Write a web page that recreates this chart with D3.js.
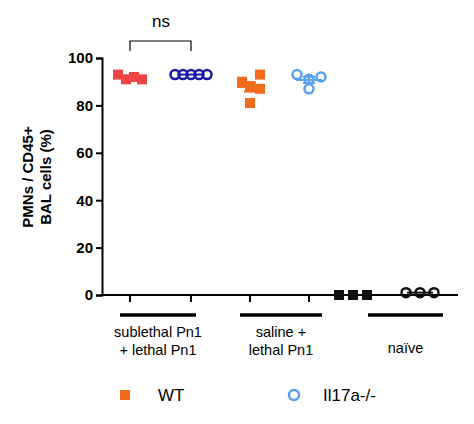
<!DOCTYPE html><html><head><meta charset="utf-8"><script src="https://cdn.jsdelivr.net/npm/d3@7"></script>
<style>body{margin:0;background:#fff}text{font-family:Arial,"Liberation Sans",sans-serif}</style></head><body><svg id="c" width="474" height="424"></svg><script>
const groups=["sub_WT","sub_KO","sal_WT","sal_KO","naive_WT","naive_KO"];
const values=[[93,91,92,91],[93,93,93,93,93],[93,90,87,88,81],[93,92,87,91],[0,0,0],[1,1,1]];
const colors=["#f04545","#1a1aa8","#f26b1d","#5aa0f0","#111","#111"];
const shapes=["sq","ci","sq","ci","sq","ci"];
const yTicks=[0,20,40,60,80,100];
const catLabels=[["sublethal  Pn1","+ lethal  Pn1"],["saline +","lethal  Pn1"],["naïve"]];
const svg=d3.select("#c");
const y=d3.scaleLinear().domain([0,100]).range([295,58]);
const xpos=[130,191,250,309,353,420];
svg.append("g").attr("transform","translate(102,0)").call(d3.axisLeft(y).tickValues(yTicks).tickSize(6))
 .call(g=>{g.selectAll("path,line").attr("stroke","#000").attr("stroke-width",2);g.selectAll("text").attr("font-size",15).attr("font-weight","bold").attr("fill","#000");});
svg.append("line").attr("x1",101).attr("x2",458).attr("y1",y(0)).attr("y2",y(0)).attr("stroke","#000").attr("stroke-width",2);
[0,1,2,3].forEach(i=>svg.append("line").attr("x1",xpos[i]).attr("x2",xpos[i]).attr("y1",y(0)).attr("y2",y(0)+7).attr("stroke","#000").attr("stroke-width",2));
values.forEach((vs,i)=>{
 const n=vs.length,c=colors[i],cx=xpos[i];
 const mean=d3.mean(vs),sd=d3.deviation(vs)/Math.sqrt(n);
 const spread=i===0?[-12,-4,4,12]:i===1?[-16,-8,0,8,16]:(i===2?[10,-8,10,0,0]:(i===3?[-12,12,0,0]:[-14,0,14]));
 vs.forEach((v,j)=>{const px=cx+spread[j],py=y(v);
  if(shapes[i]==="sq")svg.append("rect").attr("x",px-5).attr("y",py-5).attr("width",10).attr("height",10).attr("fill",c);
  else svg.append("circle").attr("cx",px).attr("cy",py).attr("r",4.5).attr("fill","none").attr("stroke",c).attr("stroke-width",2.5);});
 svg.append("line").attr("x1",cx-13).attr("x2",cx+13).attr("y1",y(mean)).attr("y2",y(mean)).attr("stroke",c).attr("stroke-width",2);
 if(sd>0){svg.append("line").attr("x1",cx).attr("x2",cx).attr("y1",y(mean-sd)).attr("y2",y(mean+sd)).attr("stroke",c).attr("stroke-width",2);
  [mean-sd,mean+sd].forEach(v=>svg.append("line").attr("x1",cx-6).attr("x2",cx+6).attr("y1",y(v)).attr("y2",y(v)).attr("stroke",c).attr("stroke-width",2));}
});
svg.append("path").attr("d",`M${xpos[0]},51V41H${xpos[1]}V51`).attr("fill","none").attr("stroke","#000").attr("stroke-width",1.2);
svg.append("text").attr("x",161).attr("y",27).attr("text-anchor","middle").attr("font-size",17).text("ns");
const bars=[[120,196],[240,322],[368,443]];
bars.forEach((b,i)=>{svg.append("line").attr("x1",b[0]).attr("x2",b[1]).attr("y1",315).attr("y2",315).attr("stroke","#000").attr("stroke-width",3.5);
 const t=svg.append("text").attr("x",(b[0]+b[1])/2).attr("y",i==2?353:337).attr("text-anchor","middle").attr("font-size",14.5);
 catLabels[i].forEach((l,k)=>t.append("tspan").attr("x",(b[0]+b[1])/2).attr("dy",k?18:0).text(l));});
const yl=svg.append("text").attr("transform","translate(0,177) rotate(-90)").attr("text-anchor","middle").attr("font-size",15).attr("font-weight","bold");
yl.append("tspan").attr("x",0).attr("y",33).text("PMNs / CD45+");yl.append("tspan").attr("x",0).attr("y",51).text("BAL cells (%)");
svg.append("rect").attr("x",120).attr("y",390).attr("width",10).attr("height",10).attr("fill","#f26b1d");
svg.append("text").attr("x",158).attr("y",401).attr("font-size",17).text("WT");
svg.append("circle").attr("cx",294).attr("cy",395).attr("r",5).attr("fill","none").attr("stroke","#5aa0f0").attr("stroke-width",2.5);
svg.append("text").attr("x",323).attr("y",401).attr("font-size",17).text("Il17a-/-");
</script></body></html>
